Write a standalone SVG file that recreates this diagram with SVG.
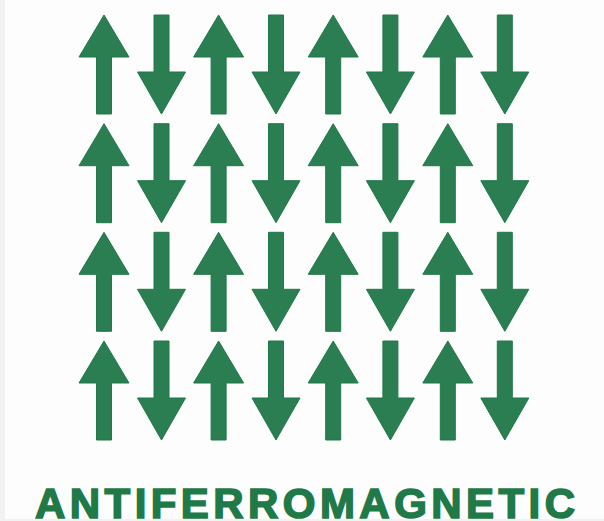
<svg xmlns="http://www.w3.org/2000/svg" xmlns:xlink="http://www.w3.org/1999/xlink" width="604" height="521" viewBox="0 0 604 521">
<style>
.arrow{fill:#2b7d52;stroke:#1f7a48;stroke-width:1}
.label{font-family:"Liberation Sans","Arial",sans-serif;font-weight:bold;font-size:42px;fill:#1f7a48;stroke:#1f7a48;stroke-width:1.6}
</style>
<defs>
<path id="up" d="M0,0 L25,42 L7.5,42 L7.5,99 L-7.5,99 L-7.5,42 L-25,42 Z"/>
<path id="down" d="M-7.5,0 L7.5,0 L7.5,57 L24,57 L0,99 L-24,57 L-7.5,57 Z"/>
</defs>
<rect x="0" y="0" width="604" height="521" fill="#fdfdfd"/>
<rect x="0" y="0" width="5" height="521" fill="#f2f2f2"/>
<g id="connectors"></g>
<g id="row1">
<g id="r1c1"><use xlink:href="#up" class="arrow" transform="translate(104,15)"/></g>
<g id="r1c2"><use xlink:href="#down" class="arrow" transform="translate(161.5,15)"/></g>
<g id="r1c3"><use xlink:href="#up" class="arrow" transform="translate(218.6,15)"/></g>
<g id="r1c4"><use xlink:href="#down" class="arrow" transform="translate(276,15)"/></g>
<g id="r1c5"><use xlink:href="#up" class="arrow" transform="translate(333.2,15)"/></g>
<g id="r1c6"><use xlink:href="#down" class="arrow" transform="translate(390.4,15)"/></g>
<g id="r1c7"><use xlink:href="#up" class="arrow" transform="translate(447.8,15)"/></g>
<g id="r1c8"><use xlink:href="#down" class="arrow" transform="translate(504.8,15)"/></g>
</g>
<g id="row2">
<g id="r2c1"><use xlink:href="#up" class="arrow" transform="translate(104,123.7)"/></g>
<g id="r2c2"><use xlink:href="#down" class="arrow" transform="translate(161.5,123.7)"/></g>
<g id="r2c3"><use xlink:href="#up" class="arrow" transform="translate(218.6,123.7)"/></g>
<g id="r2c4"><use xlink:href="#down" class="arrow" transform="translate(276,123.7)"/></g>
<g id="r2c5"><use xlink:href="#up" class="arrow" transform="translate(333.2,123.7)"/></g>
<g id="r2c6"><use xlink:href="#down" class="arrow" transform="translate(390.4,123.7)"/></g>
<g id="r2c7"><use xlink:href="#up" class="arrow" transform="translate(447.8,123.7)"/></g>
<g id="r2c8"><use xlink:href="#down" class="arrow" transform="translate(504.8,123.7)"/></g>
</g>
<g id="row3">
<g id="r3c1"><use xlink:href="#up" class="arrow" transform="translate(104,232.3)"/></g>
<g id="r3c2"><use xlink:href="#down" class="arrow" transform="translate(161.5,232.3)"/></g>
<g id="r3c3"><use xlink:href="#up" class="arrow" transform="translate(218.6,232.3)"/></g>
<g id="r3c4"><use xlink:href="#down" class="arrow" transform="translate(276,232.3)"/></g>
<g id="r3c5"><use xlink:href="#up" class="arrow" transform="translate(333.2,232.3)"/></g>
<g id="r3c6"><use xlink:href="#down" class="arrow" transform="translate(390.4,232.3)"/></g>
<g id="r3c7"><use xlink:href="#up" class="arrow" transform="translate(447.8,232.3)"/></g>
<g id="r3c8"><use xlink:href="#down" class="arrow" transform="translate(504.8,232.3)"/></g>
</g>
<g id="row4">
<g id="r4c1"><use xlink:href="#up" class="arrow" transform="translate(104,341)"/></g>
<g id="r4c2"><use xlink:href="#down" class="arrow" transform="translate(161.5,341)"/></g>
<g id="r4c3"><use xlink:href="#up" class="arrow" transform="translate(218.6,341)"/></g>
<g id="r4c4"><use xlink:href="#down" class="arrow" transform="translate(276,341)"/></g>
<g id="r4c5"><use xlink:href="#up" class="arrow" transform="translate(333.2,341)"/></g>
<g id="r4c6"><use xlink:href="#down" class="arrow" transform="translate(390.4,341)"/></g>
<g id="r4c7"><use xlink:href="#up" class="arrow" transform="translate(447.8,341)"/></g>
<g id="r4c8"><use xlink:href="#down" class="arrow" transform="translate(504.8,341)"/></g>
</g>
<g id="title">
<text class="label" x="35" y="518" textLength="540" lengthAdjust="spacing">ANTIFERROMAGNETIC</text>
</g>
<rect x="0" y="519" width="604" height="2" fill="#f2f2f2"/>
</svg>
